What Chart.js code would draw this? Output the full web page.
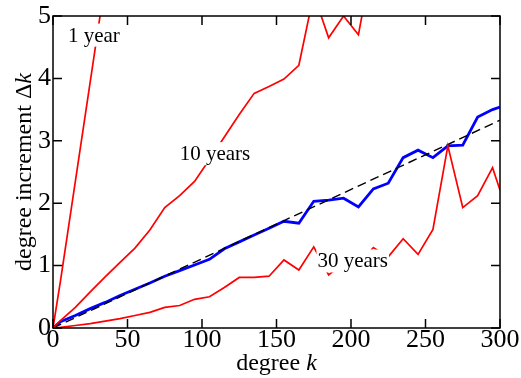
<!DOCTYPE html>
<html>
<head>
<meta charset="utf-8">
<script src="https://cdn.jsdelivr.net/npm/chart.js@4/dist/chart.umd.min.js"></script>
<style>
  html, body { margin: 0; padding: 0; background: #fff; }
  #wrap { width: 521px; height: 378px; }
</style>
</head>
<body>
<div id="wrap"><canvas id="c" width="521" height="378"></canvas></div>
<script>
// ---- data ----
const kFull = [0,5,15,25,35,45,55,65,75,85,95,105,115,125,135,145,155,165,175,185,195,205,215,225,235,245,255,265,275,285,295,300];
const blueMean = [0,0.10,0.20,0.31,0.41,0.52,0.62,0.72,0.83,0.92,1.01,1.10,1.27,1.38,1.49,1.60,1.71,1.68,2.03,2.05,2.08,1.94,2.23,2.32,2.73,2.85,2.73,2.92,2.93,3.38,3.50,3.54];
const years30 = [0,0.01,0.04,0.07,0.11,0.15,0.20,0.25,0.33,0.36,0.46,0.50,0.65,0.81,0.81,0.83,1.09,0.93,1.30,0.85,1.05,1.00,1.29,1.14,1.43,1.18,1.58,2.92,1.93,2.12,2.57,2.21];
const k10 = [0,5,15,25,35,45,55,65,75,85,95,105,115,125,135,145,155,165,175,185,195,205,215];
const years10 = [0,0.12,0.33,0.58,0.82,1.05,1.28,1.57,1.93,2.12,2.35,2.70,3.06,3.42,3.76,3.87,3.99,4.21,5.35,4.65,5.00,4.70,6.00];
const k1 = [0,5,15,25,35];
const years1 = [0,0.75,2.35,3.95,5.55];
const kFit = [0,300];
const fitLine = [0,3.33];
const xTicks = [0,50,100,150,200,250,300];
const yTicks = [0,1,2,3,4,5];
const labels = [
  {text: "1 year", k: 10, v: 4.59},
  {text: "10 years", k: 85, v: 2.69},
  {text: "30 years", k: 177.5, v: 0.97}
];

const pts = (xs, ys) => xs.map((x, i) => ({x: x, y: ys[i]}));
const SERIF = "'Liberation Serif', 'DejaVu Serif', serif";

const framePlugin = {
  id: 'frame',
  afterDatasetsDraw(chart) {
    const ctx = chart.ctx;
    const a = chart.chartArea;
    const xs = chart.scales.x, ys = chart.scales.y;
    // annotations with white background
    ctx.save();
    ctx.font = "21px " + SERIF;
    ctx.textBaseline = 'alphabetic';
    ctx.textAlign = 'left';
    labels.forEach(l => {
      const x = xs.getPixelForValue(l.k);
      const y = ys.getPixelForValue(l.v);
      const w = ctx.measureText(l.text).width;
      ctx.fillStyle = '#fff';
      ctx.fillRect(x - 1, y - 18, w + 2, 23);
      ctx.fillStyle = '#000';
      ctx.fillText(l.text, x, y);
    });
    ctx.restore();

    // frame
    ctx.save();
    ctx.strokeStyle = '#000';
    ctx.lineWidth = 1.5;
    ctx.strokeRect(a.left, a.top, a.right - a.left, a.bottom - a.top);
    // inward ticks
    const L = 9;
    ctx.beginPath();
    xTicks.forEach(t => {
      const px = xs.getPixelForValue(t);
      ctx.moveTo(px, a.bottom); ctx.lineTo(px, a.bottom - L);
      ctx.moveTo(px, a.top); ctx.lineTo(px, a.top + L);
    });
    yTicks.forEach(t => {
      const py = ys.getPixelForValue(t);
      ctx.moveTo(a.left, py); ctx.lineTo(a.left + L, py);
      ctx.moveTo(a.right, py); ctx.lineTo(a.right - L, py);
    });
    ctx.stroke();
    ctx.restore();

    // axis titles with italic k
    ctx.save();
    ctx.fillStyle = '#000';
    ctx.textBaseline = 'alphabetic';
    const up = "24px " + SERIF, it = "italic 24px " + SERIF;
    // x title
    ctx.font = up; const w1 = ctx.measureText("degree ").width;
    ctx.font = it; const w2 = ctx.measureText("k").width;
    let cx = (a.left + a.right) / 2 - (w1 + w2) / 2;
    ctx.font = up; ctx.textAlign = 'left'; ctx.fillText("degree ", cx, 370);
    ctx.font = it; ctx.fillText("k", cx + w1, 370);
    // y title
    ctx.translate(31, (a.top + a.bottom) / 2);
    ctx.rotate(-Math.PI / 2);
    ctx.font = up; const w3 = ctx.measureText("degree increment \u0394").width;
    ctx.font = it; const w4 = ctx.measureText("k").width;
    const sx = -(w3 + w4) / 2;
    ctx.font = up; ctx.fillText("degree increment \u0394", sx, 0);
    ctx.font = it; ctx.fillText("k", sx + w3, 0);
    ctx.restore();
  }
};

new Chart(document.getElementById('c'), {
  type: 'line',
  data: {
    datasets: [
      {label: '1 year', data: pts(k1, years1), borderColor: '#ff0000', borderWidth: 1.7},
      {label: '10 years', data: pts(k10, years10), borderColor: '#ff0000', borderWidth: 1.7},
      {label: '30 years', data: pts(kFull, years30), borderColor: '#ff0000', borderWidth: 1.7},
      {label: 'linear', data: pts(kFit, fitLine), borderColor: '#000000', borderWidth: 1.4, borderDash: [9, 5]},
      {label: 'mean', data: pts(kFull, blueMean), borderColor: '#0000ff', borderWidth: 2.8}
    ]
  },
  options: {
    responsive: false,
    animation: false,
    devicePixelRatio: 1,
    layout: {padding: {top: 16, right: 21, left: 0, bottom: 0}},
    elements: {point: {radius: 0}, line: {tension: 0, fill: false}},
    plugins: {legend: {display: false}, tooltip: {enabled: false}},
    scales: {
      x: {
        type: 'linear', min: 0, max: 300,
        afterFit(s) { s.height = 50; },
        afterBuildTicks(s) { s.ticks = xTicks.map(v => ({value: v})); },
        grid: {display: false, drawTicks: false},
        border: {display: false},
        ticks: {color: '#000', padding: -1, maxRotation: 0, font: {family: SERIF, size: 26, lineHeight: 1}}
      },
      y: {
        type: 'linear', min: 0, max: 5,
        afterFit(s) { s.width = 53; },
        afterBuildTicks(s) { s.ticks = yTicks.map(v => ({value: v})); },
        grid: {display: false, drawTicks: false},
        border: {display: false},
        ticks: {color: '#000', padding: 2, font: {family: SERIF, size: 26, lineHeight: 1}}
      }
    }
  },
  plugins: [framePlugin]
});
</script>
</body>
</html>
